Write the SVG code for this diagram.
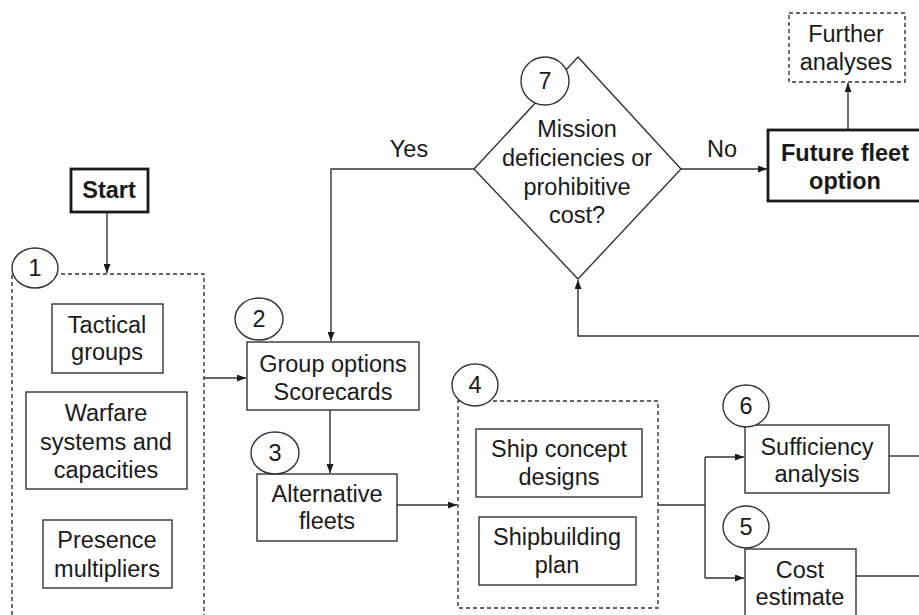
<svg xmlns="http://www.w3.org/2000/svg" width="919" height="615" viewBox="0 0 919 615">
<style>
text{font-family:"Liberation Sans",Arial,sans-serif;font-size:23.5px;fill:#1a1a1a;text-anchor:middle}
.b{font-weight:bold}
.box{fill:#fff;stroke:#333;stroke-width:1.4}
.dash{fill:none;stroke:#333;stroke-width:1.4;stroke-dasharray:4 3}
.thick{fill:#fff;stroke:#1a1a1a;stroke-width:2.8}
.num{fill:#fff;stroke:#333;stroke-width:1.4}
.ln{fill:none;stroke:#333;stroke-width:1.4}
</style>
<defs>
<marker id="ah" markerUnits="userSpaceOnUse" markerWidth="9" markerHeight="7" refX="9" refY="3.5" orient="auto">
<path d="M0,0 L9,3.5 L0,7 z" fill="#1a1a1a"/>
</marker>
</defs>
<rect width="919" height="615" fill="#fff"/>
<g id="connectors">
<path class="ln" d="M107,212 V273" marker-end="url(#ah)"/>
<path class="ln" d="M204,378 H246" marker-end="url(#ah)"/>
<path class="ln" d="M474,169 H331 V341" marker-end="url(#ah)"/>
<path class="ln" d="M330,410 V473" marker-end="url(#ah)"/>
<path class="ln" d="M397,505 H457" marker-end="url(#ah)"/>
<path class="ln" d="M658,505 H705"/>
<path class="ln" d="M705,457 V578"/>
<path class="ln" d="M705,457 H744" marker-end="url(#ah)"/>
<path class="ln" d="M705,578 H744" marker-end="url(#ah)"/>
<path class="ln" d="M889,456 H919"/>
<path class="ln" d="M856,576 H919"/>
<path class="ln" d="M919,336 H578 V280" marker-end="url(#ah)"/>
<path class="ln" d="M681,169 H767" marker-end="url(#ah)"/>
<path class="ln" d="M848,130 V83" marker-end="url(#ah)"/>
<text x="409" y="157">Yes</text>
<text x="722" y="157">No</text>
</g>
<g id="start">
<rect class="thick" x="71" y="169" width="77" height="43"/>
<text class="b" x="109" y="198">Start</text>
</g>
<g id="step1">
<rect class="dash" x="12" y="274" width="192" height="360"/>
<ellipse class="num" cx="35" cy="268" rx="23" ry="20"/>
<text x="35" y="276">1</text>
</g>
<g id="tactical">
<rect class="box" x="52" y="304" width="111" height="69"/>
<text x="107" y="333">Tactical</text>
<text x="107" y="360">groups</text>
</g>
<g id="warfare">
<rect class="box" x="26" y="392" width="161" height="97"/>
<text x="106" y="421">Warfare</text>
<text x="106" y="450">systems and</text>
<text x="106" y="478">capacities</text>
</g>
<g id="presence">
<rect class="box" x="43" y="520" width="129" height="68"/>
<text x="107" y="548">Presence</text>
<text x="107" y="577">multipliers</text>
</g>
<g id="step2">
<rect class="box" x="247" y="342" width="172" height="68"/>
<text x="333" y="372">Group options</text>
<text x="333" y="400">Scorecards</text>
<ellipse class="num" cx="259" cy="319" rx="24" ry="21"/>
<text x="259" y="327">2</text>
</g>
<g id="step3">
<rect class="box" x="257" y="474" width="140" height="67"/>
<text x="327" y="502">Alternative</text>
<text x="327" y="529">fleets</text>
<ellipse class="num" cx="275" cy="453" rx="24" ry="21"/>
<text x="275" y="461">3</text>
</g>
<g id="step4">
<rect class="dash" x="458" y="401" width="200" height="207"/>
<ellipse class="num" cx="475" cy="385" rx="23" ry="21"/>
<text x="475" y="393">4</text>
</g>
<g id="shipconcept">
<rect class="box" x="476" y="429" width="166" height="68"/>
<text x="559" y="457">Ship concept</text>
<text x="559" y="485">designs</text>
</g>
<g id="shipbuilding">
<rect class="box" x="479" y="517" width="157" height="68"/>
<text x="557" y="545">Shipbuilding</text>
<text x="557" y="573">plan</text>
</g>
<g id="step6">
<rect class="box" x="745" y="425" width="144" height="68"/>
<text x="817" y="455">Sufficiency</text>
<text x="817" y="482">analysis</text>
<ellipse class="num" cx="746" cy="406" rx="23" ry="21"/>
<text x="746" y="414">6</text>
</g>
<g id="step5">
<rect class="box" x="745" y="549" width="111" height="80"/>
<text x="800" y="578">Cost</text>
<text x="800" y="605">estimate</text>
<ellipse class="num" cx="746" cy="527" rx="23" ry="21"/>
<text x="746" y="535">5</text>
</g>
<g id="step7">
<polygon class="box" points="578,57 681,169 578,279 474,169"/>
<text x="577" y="137">Mission</text>
<text x="577" y="166">deficiencies or</text>
<text x="577" y="195">prohibitive</text>
<text x="577" y="223">cost?</text>
<ellipse class="num" cx="545" cy="81" rx="24" ry="24"/>
<text x="545" y="89">7</text>
</g>
<g id="future">
<rect class="thick" x="768" y="130" width="170" height="71"/>
<text class="b" x="845" y="161">Future fleet</text>
<text class="b" x="845" y="189">option</text>
</g>
<g id="further">
<rect class="dash" x="789" y="13" width="116" height="69"/>
<text x="846" y="42">Further</text>
<text x="846" y="70">analyses</text>
</g>
</svg>
